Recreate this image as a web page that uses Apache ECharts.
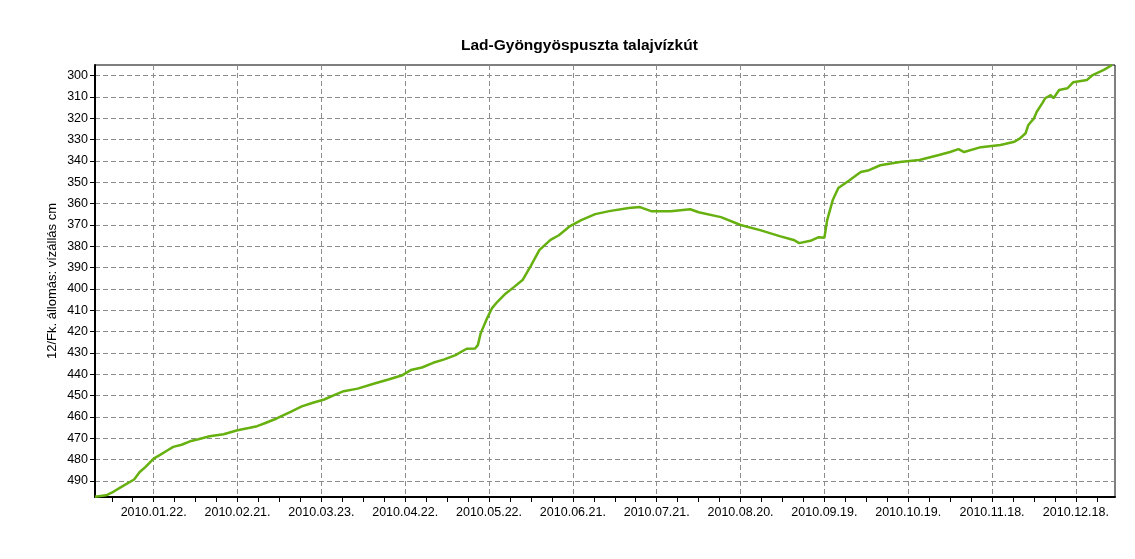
<!DOCTYPE html>
<html>
<head>
<meta charset="utf-8">
<script src="https://cdn.jsdelivr.net/npm/echarts@6/dist/echarts.min.js"></script>
<style>
  html, body { margin: 0; padding: 0; background: #fff; }
  #main { width: 1135px; height: 559px; }
</style>
</head>
<body>
<div id="main"></div>
<script>
// water level readings (cm)
var dates = [
  '2010-01-01', '2010-01-05', '2010-01-07', '2010-01-10', '2010-01-15', '2010-01-17', '2010-01-19',
  '2010-01-22', '2010-01-24', '2010-01-27', '2010-01-29', '2010-02-01', '2010-02-04', '2010-02-07',
  '2010-02-11', '2010-02-16', '2010-02-21', '2010-02-25', '2010-02-28', '2010-03-03', '2010-03-07',
  '2010-03-12', '2010-03-16', '2010-03-20', '2010-03-24', '2010-03-28', '2010-03-31', '2010-04-05',
  '2010-04-11', '2010-04-16', '2010-04-21', '2010-04-24', '2010-04-28', '2010-05-02', '2010-05-06',
  '2010-05-10', '2010-05-14', '2010-05-17', '2010-05-18', '2010-05-19', '2010-05-21', '2010-05-23',
  '2010-05-25', '2010-05-28', '2010-05-31', '2010-06-03', '2010-06-06', '2010-06-09', '2010-06-13',
  '2010-06-16', '2010-06-20', '2010-06-24', '2010-06-29', '2010-07-04', '2010-07-11', '2010-07-15',
  '2010-07-19', '2010-07-26', '2010-08-02', '2010-08-05', '2010-08-13', '2010-08-20', '2010-08-27',
  '2010-09-03', '2010-09-08', '2010-09-10', '2010-09-14', '2010-09-17', '2010-09-19', '2010-09-20',
  '2010-09-22', '2010-09-24', '2010-09-28', '2010-10-02', '2010-10-05', '2010-10-09', '2010-10-16',
  '2010-10-23', '2010-10-30', '2010-11-03', '2010-11-06', '2010-11-08', '2010-11-14', '2010-11-21',
  '2010-11-26', '2010-11-28', '2010-11-30', '2010-12-01', '2010-12-03', '2010-12-04', '2010-12-06',
  '2010-12-07', '2010-12-09', '2010-12-10', '2010-12-12', '2010-12-15', '2010-12-17', '2010-12-22',
  '2010-12-24', '2010-12-28', '2010-12-31'
];
var levels = [
  497.4, 496.7, 495.5, 493.1, 489.3, 485.8, 483.5,
  479.5, 478.0, 475.6, 474.0, 473.0, 471.4, 470.4,
  469.0, 468.1, 466.2, 465.2, 464.3, 462.8, 460.7,
  457.6, 455.0, 453.3, 451.8, 449.5, 447.9, 446.7,
  444.3, 442.4, 440.4, 438.0, 436.8, 434.6, 433.0,
  431.0, 428.0, 427.9, 426.3, 420.8, 414.6, 409.1,
  406.0, 402.1, 399.0, 395.8, 389.0, 381.8, 377.0,
  374.8, 370.5, 367.7, 364.9, 363.5, 362.0, 361.6,
  363.5, 363.5, 362.6, 364.0, 366.3, 370.0, 372.4,
  375.2, 377.0, 378.5, 377.4, 375.7, 376.0, 367.7,
  358.3, 352.7, 349.0, 345.2, 344.3, 342.0, 340.5,
  339.5, 337.2, 335.8, 334.4, 335.8, 333.5, 332.5,
  331.0, 329.4, 327.0, 323.1, 320.0, 316.9, 312.9,
  310.6, 309.1, 310.6, 306.7, 305.9, 303.1, 302.0,
  299.7, 297.3, 295.0
];
var tickLabels = ['2010.01.22.', '2010.02.21.', '2010.03.23.', '2010.04.22.', '2010.05.22.', '2010.06.21.',
  '2010.07.21.', '2010.08.20.', '2010.09.19.', '2010.10.19.', '2010.11.18.', '2010.12.18.'];
var yTicks = [300, 310, 320, 330, 340, 350, 360, 370, 380, 390, 400, 410, 420, 430, 440, 450, 460, 470, 480, 490];

// x is counted in days from 2010-01-01
var DAY = 86400000;
function dayOf(s) {
  var p = s.split(/[-.]/);
  return (Date.UTC(+p[0], +p[1] - 1, +p[2]) - Date.UTC(2010, 0, 1)) / DAY;
}
var majorDays = tickLabels.map(dayOf);
// small ticks: every quarter of the 30-day label step
var minorDays = [];
majorDays.forEach(function (t, i) {
  var k;
  if (i == 0) {
    for (k = 1; k <= 3; k++) minorDays.push(t - k * 7.5);
  }
  for (k = 1; k <= 3; k++) minorDays.push(t + k * 7.5);
});

var chart = echarts.init(document.getElementById('main'));
var font = '"Liberation Sans", Arial, sans-serif';
var gridDash = { color: '#8c8c8c', width: 1, type: [5, 3] };

var option = {
  animation: false,
  title: {
    text: 'Lad-Gyöngyöspuszta talajvízkút',
    left: 461,
    top: 38,
    padding: 0,
    textStyle: { fontFamily: font, fontSize: 15.5, fontWeight: 'bold', color: '#000' }
  },
  grid: {
    left: 95, right: 20, top: 65, bottom: 62,
    show: true, borderColor: '#000', borderWidth: 1, backgroundColor: '#fff'
  },
  xAxis: [
    {
      type: 'value',
      min: 0,
      max: 365,
      axisLine: { show: true, lineStyle: { color: '#000', width: 2 } },
      axisTick: { show: true, length: 5, customValues: majorDays, lineStyle: { color: '#000' } },
      axisLabel: {
        customValues: majorDays,
        margin: 9,
        fontFamily: font,
        fontSize: 12.5,
        color: '#000',
        formatter: function (v) {
          var i = majorDays.indexOf(v);
          return i >= 0 ? tickLabels[i] : '';
        }
      },
      splitLine: { show: true, lineStyle: gridDash }
    },
    {
      type: 'value',
      min: 0,
      max: 365,
      position: 'bottom',
      axisLine: { show: false },
      axisTick: { show: true, length: 5, customValues: minorDays, lineStyle: { color: '#000' } },
      axisLabel: { show: false },
      splitLine: { show: false }
    }
  ],
  yAxis: {
    type: 'value',
    inverse: true,
    min: 295,
    max: 497.5,
    name: '12/Fk. állomás: vízállás cm',
    nameLocation: 'middle',
    nameRotate: 90,
    nameGap: 36,
    nameMoveOverlap: false,
    nameTextStyle: { fontFamily: font, fontSize: 13, color: '#000' },
    axisLine: { show: true, lineStyle: { color: '#000', width: 2 } },
    axisTick: { show: true, length: 5, customValues: yTicks, lineStyle: { color: '#000' } },
    axisLabel: { customValues: yTicks, margin: 7, fontFamily: font, fontSize: 12.5, color: '#000' },
    splitLine: { show: true, lineStyle: gridDash }
  },
  series: [
    {
      type: 'line',
      xAxisIndex: 0,
      showSymbol: false,
      data: dates.map(function (d, i) { return [dayOf(d), levels[i]]; }),
      lineStyle: { color: '#66b010', width: 2.5 },
      itemStyle: { color: '#66b010' }
    }
  ]
};
chart.setOption(option);
</script>
</body>
</html>
